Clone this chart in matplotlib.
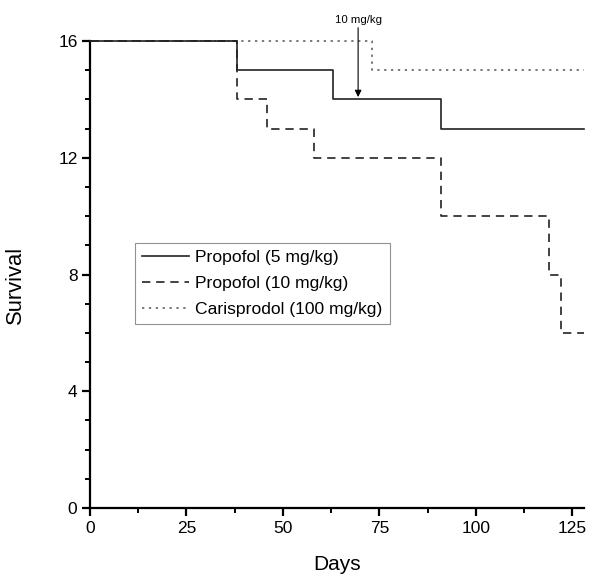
import matplotlib
matplotlib.use("Agg")
import matplotlib.pyplot as plt

plt.rcParams['font.family'] = ['Liberation Sans', 'DejaVu Sans']

# Step data (days, survival)
p5_days = [0, 38, 63, 91, 128]
p5_surv = [16, 15, 14, 13, 13]
p10_days = [0, 38, 46, 58, 91, 119, 122, 128]
p10_surv = [16, 14, 13, 12, 10, 8, 6, 6]
car_days = [0, 73, 128]
car_surv = [16, 15, 15]
labels = ["Propofol (5 mg/kg)", "Propofol (10 mg/kg)", "Carisprodol (100 mg/kg)"]
arrow_day = 69.5
arrow_text = "10 mg/kg"

fig = plt.figure(figsize=(6, 5.81), dpi=100)
ax = fig.add_axes([0.15, 0.1256, 0.823, 0.8038])

ax.step(p5_days, p5_surv, where='post', color='#222222', lw=1.2, ls='-', label=labels[0], clip_on=False, zorder=3)
ax.step(p10_days, p10_surv, where='post', color='#222222', lw=1.2, ls=(0, (5, 3.5)), label=labels[1], clip_on=False, zorder=3)
ax.step(car_days, car_surv, where='post', color='#555555', lw=1.1, ls=(0, (1.5, 3)), label=labels[2], clip_on=False, zorder=2)

ax.set_xlim(0, 128)
ax.set_ylim(0, 16)
ax.set_xticks([0, 25, 50, 75, 100, 125])
ax.set_xticks([12.5, 37.5, 62.5, 87.5, 112.5], minor=True)
ax.set_yticks([0, 4, 8, 12, 16])
ax.set_yticks([1, 2, 3, 5, 6, 7, 9, 10, 11, 13, 14, 15], minor=True)
for s in ['top', 'right']:
    ax.spines[s].set_visible(False)
for s in ['left', 'bottom']:
    ax.spines[s].set_linewidth(1.6)
ax.tick_params(which='major', direction='out', length=6, width=1.6, labelsize=12.5, pad=3)
ax.tick_params(which='minor', direction='out', length=3.5, width=1.4)

ax.set_xlabel("Days", fontsize=15, labelpad=14)
ax.set_ylabel("Survival", fontsize=15.8)
ax.yaxis.set_label_coords(-0.13, 0.4775)

ax.annotate(arrow_text, xy=(arrow_day, 14.08), xytext=(arrow_day, 16.55),
            ha='center', va='bottom', fontsize=8.2, annotation_clip=False,
            arrowprops=dict(arrowstyle='-|>', color='black', lw=0.8, mutation_scale=10, shrinkA=0, shrinkB=0))

leg = ax.legend(loc='upper left', bbox_to_anchor=(0.091, 0.568), fontsize=12.6,
                frameon=True, fancybox=False, edgecolor='#777777', borderaxespad=0,
                handlelength=2.7, labelspacing=0.62, borderpad=0.4, handletextpad=0.35)
leg.get_frame().set_linewidth(0.8)

fig.savefig("out.png", dpi=100)
